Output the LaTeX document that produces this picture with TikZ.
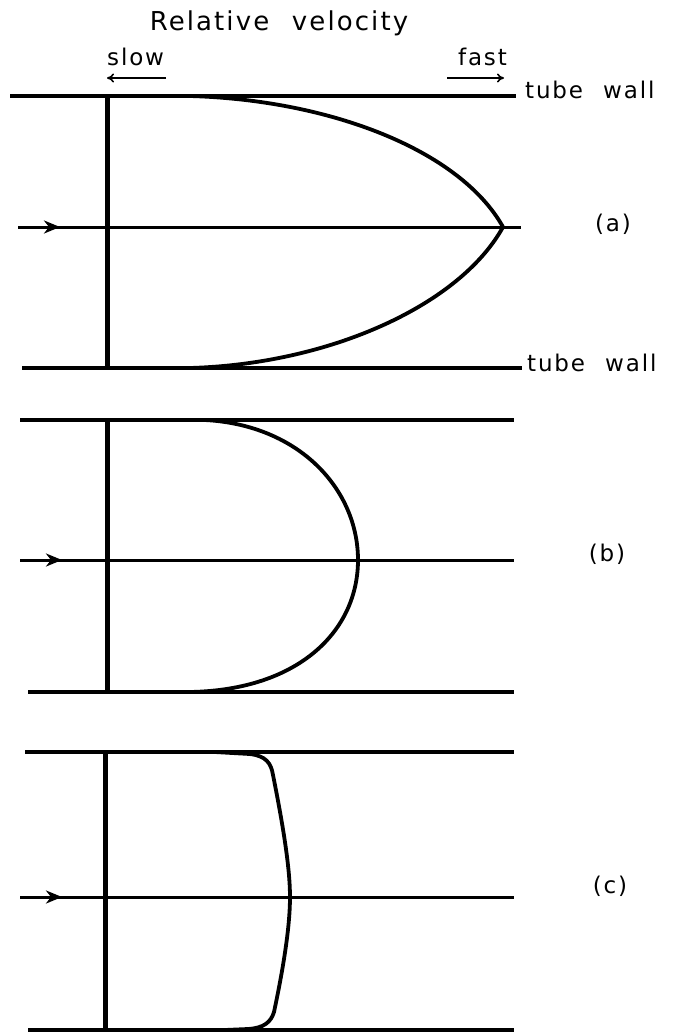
\documentclass[tikz,border=0pt]{standalone}
\usepackage{fontspec}
\newfontfamily\letterfont{DejaVu Sans}[LetterSpace=8,WordSpace=2.2]
\usetikzlibrary{arrows.meta}

\begin{document}
\begin{tikzpicture}[
    x=1pt,y=-1pt,
    >=stealth,
    wall/.style={line width=3.4pt},
    axis/.style={line width=3pt},
    front/.style={line width=5pt},
    profile/.style={line width=3.8pt,line join=round},
    flowtip/.style={axis,-{Stealth[length=16pt,width=13pt,inset=5pt]}},
    speedarrow/.style={line width=1.6pt,-{To[length=7pt,width=9pt]}},
    lbl/.style={font=\letterfont\fontsize{23}{27}\selectfont,inner sep=0pt}
]

\useasboundingbox (0,0) rectangle (675,1036);

% Titles
\node[lbl,font=\letterfont\fontsize{26}{30}\selectfont,anchor=base]
    (title) at (279,30) {Relative velocity};
\node[lbl,anchor=base west] (slow) at (107,65) {slow};
\node[lbl,anchor=base east] (fast) at (507,65) {fast};

% slow / fast arrows
\coordinate (slowR) at (166,78);
\coordinate (slowL) at (107,78);
\coordinate (fastL) at (447,78);
\coordinate (fastR) at (504,78);
\draw[speedarrow] (slowR) -- (slowL);
\draw[speedarrow] (fastL) -- (fastR);


% ===== Profile (a) =====
\coordinate (aTopL) at (10,96);
\coordinate (aTopR) at (516,96);
\coordinate (aBotL) at (22,368);
\coordinate (aBotR) at (522,368);
\coordinate (aIn) at (18,227);
\coordinate (aTip) at (60,227);
\coordinate (aOut) at (521,227);

\draw[wall] (aTopL) -- (aTopR);
\draw[wall] (aBotL) -- (aBotR);
\draw[axis] (aIn) -- (aOut);
\draw[flowtip] (aIn) -- (aTip);
\draw[front] (107,96) -- (107,368);

% parabola
\draw[profile] (190,96) .. controls (330,100) and (460,150) .. (503,227)
    .. controls (460,305) and (330,364) .. (190,368);

\node[lbl,anchor=base west] (wallTop) at (525,98) {tube wall};
\node[lbl,anchor=base west] (wallBot) at (527,371) {tube wall};
\node[lbl] (labA) at (613,224) {(a)};


% ===== Profile (b) =====
\coordinate (bTopL) at (20,420);
\coordinate (bTopR) at (514,420);
\coordinate (bBotL) at (28,692);
\coordinate (bBotR) at (514,692);
\coordinate (bIn) at (20,560);
\coordinate (bTip) at (62,560);
\coordinate (bOut) at (514,560);

\draw[wall] (bTopL) -- (bTopR);
\draw[wall] (bBotL) -- (bBotR);
\draw[axis] (bIn) -- (bOut);
\draw[flowtip] (bIn) -- (bTip);
\draw[front] (107,420) -- (107,692);

\draw[profile] (205,420) .. controls (300,425) and (358,490) .. (358,560)
    .. controls (358,630) and (300,690) .. (190,692);

\node[lbl] (labB) at (607,554) {(b)};


% ===== Profile (c) =====
\coordinate (cTopL) at (25,752);
\coordinate (cTopR) at (514,752);
\coordinate (cBotL) at (28,1030);
\coordinate (cBotR) at (514,1030);
\coordinate (cIn) at (20,897);
\coordinate (cTip) at (62,897);
\coordinate (cOut) at (514,897);

\draw[wall] (cTopL) -- (cTopR);
\draw[wall] (cBotL) -- (cBotR);
\draw[axis] (cIn) -- (cOut);
\draw[flowtip] (cIn) -- (cTip);
\draw[front] (105,752) -- (105,1030);

\draw[profile] (215,752) -- (250,754)
    .. controls (266,756) and (271,763) .. (273,775)
    .. controls (284,830) and (290,870) .. (290,897)
    .. controls (290,925) and (284,965) .. (274,1012)
    .. controls (271,1022) and (264,1028) .. (248,1029) -- (225,1030);

\node[lbl] (labC) at (610,886) {(c)};

\end{tikzpicture}
\end{document}
